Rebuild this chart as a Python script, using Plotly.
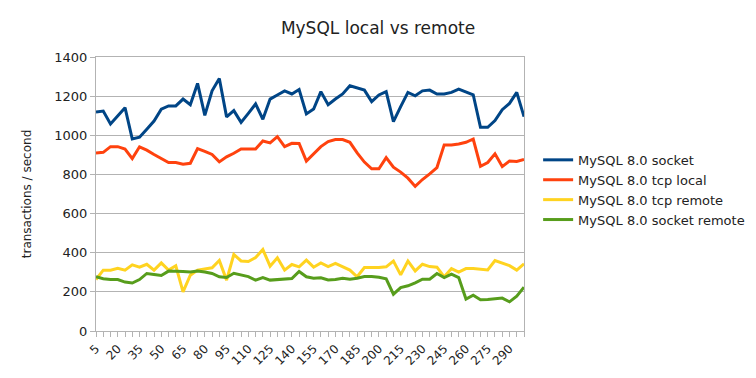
import plotly.graph_objects as go

x_values = list(range(5, 305, 5))

mysql_socket = [1119, 1124, 1058, 1100, 1141, 981, 990, 1031, 1073, 1133,
                1150, 1150, 1185, 1156, 1265, 1102, 1227, 1290, 1094, 1126,
                1066, 1112, 1160, 1082, 1185, 1206, 1227, 1211, 1234, 1109,
                1134, 1223, 1156, 1185, 1211, 1253, 1240, 1231, 1172, 1206,
                1223, 1070, 1146, 1219, 1202, 1227, 1231, 1211, 1211, 1219,
                1236, 1223, 1207, 1041, 1041, 1075, 1131, 1163, 1219, 1095]

mysql_tcp_local = [910, 913, 942, 942, 930, 881, 941, 924, 902, 880,
                   861, 861, 852, 857, 932, 918, 902, 864, 890, 908,
                   930, 930, 930, 971, 961, 993, 942, 959, 958, 868,
                   905, 942, 968, 978, 978, 964, 910, 863, 829, 829,
                   886, 837, 812, 781, 739, 774, 803, 835, 951, 951,
                   956, 964, 981, 842, 861, 905, 840, 869, 866, 876]

mysql_tcp_remote = [263, 311, 311, 321, 311, 338, 326, 341, 311, 348,
                    311, 333, 200, 285, 311, 318, 323, 360, 260, 391,
                    358, 355, 375, 416, 331, 374, 311, 340, 328, 362,
                    326, 348, 329, 345, 328, 311, 277, 324, 324, 324,
                    328, 357, 287, 357, 307, 341, 329, 326, 277, 319,
                    301, 319, 319, 314, 312, 360, 348, 334, 311, 343]

mysql_socket_remote = [277, 267, 263, 263, 250, 245, 263, 294, 289, 284,
                       306, 306, 304, 301, 307, 301, 294, 277, 273, 295,
                       285, 278, 260, 273, 260, 263, 265, 268, 304, 277,
                       270, 272, 261, 263, 270, 265, 270, 278, 278, 275,
                       267, 188, 222, 231, 246, 265, 265, 294, 273, 290,
                       273, 163, 183, 160, 161, 163, 168, 149, 178, 224]

series_names = ["MySQL 8.0 socket", "MySQL 8.0 tcp local",
                "MySQL 8.0 tcp remote", "MySQL 8.0 socket remote"]
series_values = [mysql_socket, mysql_tcp_local, mysql_tcp_remote, mysql_socket_remote]
series_colors = ["#004586", "#ff420e", "#ffd320", "#579d1c"]

x_tick_vals = list(range(5, 295, 15))
x_tick_text = [str(v) for v in x_tick_vals]
y_tick_vals = list(range(0, 1600, 200))

fig = go.Figure()
for name, vals, col in zip(series_names, series_values, series_colors):
    fig.add_trace(go.Scatter(x=x_values, y=vals, mode="lines", name=name,
                             line=dict(color=col, width=3)))

grid_col = "#b3b3b3"
fig.update_layout(
    width=748, height=370,
    margin=dict(l=88, r=232, t=49, b=47, autoexpand=False),
    paper_bgcolor="white", plot_bgcolor="white",
    font=dict(family="DejaVu Sans", size=13, color="#222222"),
    title=dict(text="MySQL local vs remote", x=0.4947, xanchor="center",
               y=0.946, yanchor="middle",
               font=dict(family="DejaVu Sans", size=17, color="#222222")),
    legend=dict(x=1.033, xanchor="left", y=0.515, yanchor="middle",
                font=dict(family="DejaVu Sans", size=13, color="#222222"),
                tracegroupgap=0, itemwidth=30, bgcolor="rgba(0,0,0,0)"),
    showlegend=True,
)
fig.update_xaxes(
    range=[5, 300], tickvals=x_tick_vals, ticktext=x_tick_text,
    tickangle=-45, showgrid=False, showline=True, linecolor=grid_col,
    linewidth=1, mirror=True, ticks="outside", ticklen=5, tickcolor=grid_col,
    tickfont=dict(size=12), automargin=False,
    minor=dict(dtick=5, tick0=5, ticks="outside", ticklen=5, tickcolor=grid_col),
    zeroline=False,
)
fig.update_yaxes(
    range=[0, 1400], tickvals=y_tick_vals, showgrid=True, gridcolor=grid_col,
    gridwidth=1, showline=True, linecolor=grid_col, linewidth=1, mirror=True,
    ticks="outside", ticklen=5, tickcolor=grid_col, zeroline=False,
    automargin=False,
    title=dict(text="transactions / second", font=dict(size=12), standoff=20),
)

fig.write_html("out.html")
